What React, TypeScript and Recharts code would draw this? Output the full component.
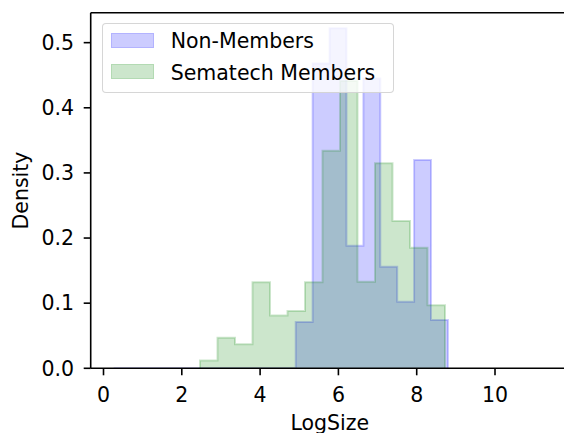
import React from 'react';
import { ComposedChart, Area, XAxis, YAxis, ReferenceLine } from 'recharts';

// non-members histogram (density), bins of equal width starting at nonMemberStart
const nonMemberStart = 4.91;
const nonMemberWidth = 0.432;
const nonMemberDensity = [0.071, 0.468, 0.522, 0.188, 0.445, 0.156, 0.102, 0.32, 0.074];
const nonMemberZeroFrom = 0.26;

// sematech members histogram (density)
const memberStart = 2.465;
const memberWidth = 0.447;
const memberDensity = [0.012, 0.047, 0.037, 0.132, 0.081, 0.088, 0.132, 0.334, 0.441, 0.133, 0.315, 0.226, 0.185, 0.097];

const xTicks = [0, 2, 4, 6, 8, 10];
const yTicks = [0, 0.1, 0.2, 0.3, 0.4, 0.5];
const xDomain = [-0.327, 11.89];
const yMax = 0.546;

const FONT = '"DejaVu Sans", sans-serif';
const FS = 20.5;

const series = [
  {
    key: 'nonMembers',
    name: 'Non-Members',
    color: '#0000ff',
    fill: 'rgba(0,0,255,0.2)',
    edge: 'rgba(0,0,255,0.12)',
    edges: [nonMemberZeroFrom, ...nonMemberDensity.map((_, i) => nonMemberStart + i * nonMemberWidth), nonMemberStart + nonMemberDensity.length * nonMemberWidth],
    vals: [0, ...nonMemberDensity],
  },
  {
    key: 'members',
    name: 'Sematech Members',
    color: '#008000',
    fill: 'rgba(0,128,0,0.2)',
    edge: 'rgba(0,128,0,0.12)',
    edges: [...memberDensity.map((_, i) => memberStart + i * memberWidth), memberStart + memberDensity.length * memberWidth],
    vals: memberDensity,
  },
];

const EPS = 1e-9;
const valueAt = (s: any, x: number) => {
  const e = s.edges;
  if (x < e[0] - EPS || x > e[e.length - 1] + EPS) return null;
  if (Math.abs(x - e[e.length - 1]) < EPS) return 0;
  for (let i = 0; i < e.length - 1; i++) {
    if (x >= e[i] - EPS && x < e[i + 1] - EPS) return s.vals[i];
  }
  return null;
};

// merge both step series on one numeric x axis; a 0 row at each start draws the left edge
const allX = Array.from(new Set(series.flatMap((s) => s.edges))).sort((a, b) => a - b);
const rows: any[] = [];
allX.forEach((x) => {
  const starting = series.filter((s) => Math.abs(x - s.edges[0]) < EPS);
  if (starting.length) {
    const pre: any = { x };
    series.forEach((s) => {
      pre[s.key] = starting.includes(s) ? 0 : valueAt(s, x);
    });
    rows.push(pre);
  }
  const row: any = { x };
  series.forEach((s) => {
    row[s.key] = valueAt(s, x);
  });
  rows.push(row);
});

const Legendbox = () => (
  <div
    style={{
      position: 'absolute',
      left: 101.7,
      top: 23.3,
      width: 292.3,
      height: 69.4,
      boxSizing: 'border-box',
      border: '1.5px solid rgba(204,204,204,0.8)',
      borderRadius: 4,
      background: 'rgba(255,255,255,0.8)',
      fontFamily: FONT,
      fontSize: FS,
      color: '#000',
    }}
  >
    {series.map((s, i) => (
      <React.Fragment key={s.key}>
        <div
          style={{
            position: 'absolute',
            left: 8,
            top: 9 + i * 31,
            width: 43.6,
            height: 14.4,
            background: s.fill,
            border: `1px solid ${s.edge}`,
            boxSizing: 'border-box',
          }}
        />
        <span
          style={{
            position: 'absolute',
            left: 68,
            top: 5 + i * 31.4,
            lineHeight: '24px',
            whiteSpace: 'nowrap',
          }}
        >
          {s.name}
        </span>
      </React.Fragment>
    ))}
  </div>
);

export default function App() {
  const tick = { fill: '#000', fontSize: FS, fontFamily: FONT };
  const line = { stroke: '#000', strokeWidth: 1.6 };
  return (
    <div style={{ position: 'relative', width: 564, height: 433, overflow: 'hidden', fontFamily: FONT }}>
      <style>{'body { margin: 0; }'}</style>
      <ComposedChart width={569} height={433} data={rows} margin={{ top: 12.7, right: 0, bottom: 0, left: 0 }}>
        <XAxis
          dataKey="x"
          type="number"
          domain={xDomain}
          ticks={xTicks}
          allowDataOverflow
          height={64.7}
          tick={tick}
          tickLine={line}
          axisLine={line}
          tickSize={7}
          tickMargin={12}
          label={{ value: 'LogSize', position: 'insideBottom', offset: 3, fill: '#000', fontSize: FS, fontFamily: FONT }}
        />
        <YAxis
          type="number"
          domain={[0, yMax]}
          ticks={yTicks}
          allowDataOverflow
          width={90.7}
          tick={tick}
          tickLine={line}
          axisLine={line}
          tickSize={7}
          tickMargin={9.7}
          tickFormatter={(v: number) => v.toFixed(1)}
          label={{
            value: 'Density',
            angle: -90,
            position: 'insideLeft',
            offset: 20.7,
            fill: '#000',
            fontSize: FS,
            fontFamily: FONT,
            style: { textAnchor: 'middle' },
          }}
        />
        {series.map((s) => (
          <Area
            key={s.key}
            dataKey={s.key}
            name={s.name}
            type="stepAfter"
            stroke={s.color}
            strokeOpacity={0.2}
            strokeWidth={2}
            fill={s.color}
            fillOpacity={0.2}
            dot={false}
            activeDot={false}
            connectNulls={false}
            isAnimationActive={false}
          />
        ))}
        <ReferenceLine y={yMax} stroke="#000" strokeWidth={1.6} />
      </ComposedChart>
      <Legendbox />
    </div>
  );
}
